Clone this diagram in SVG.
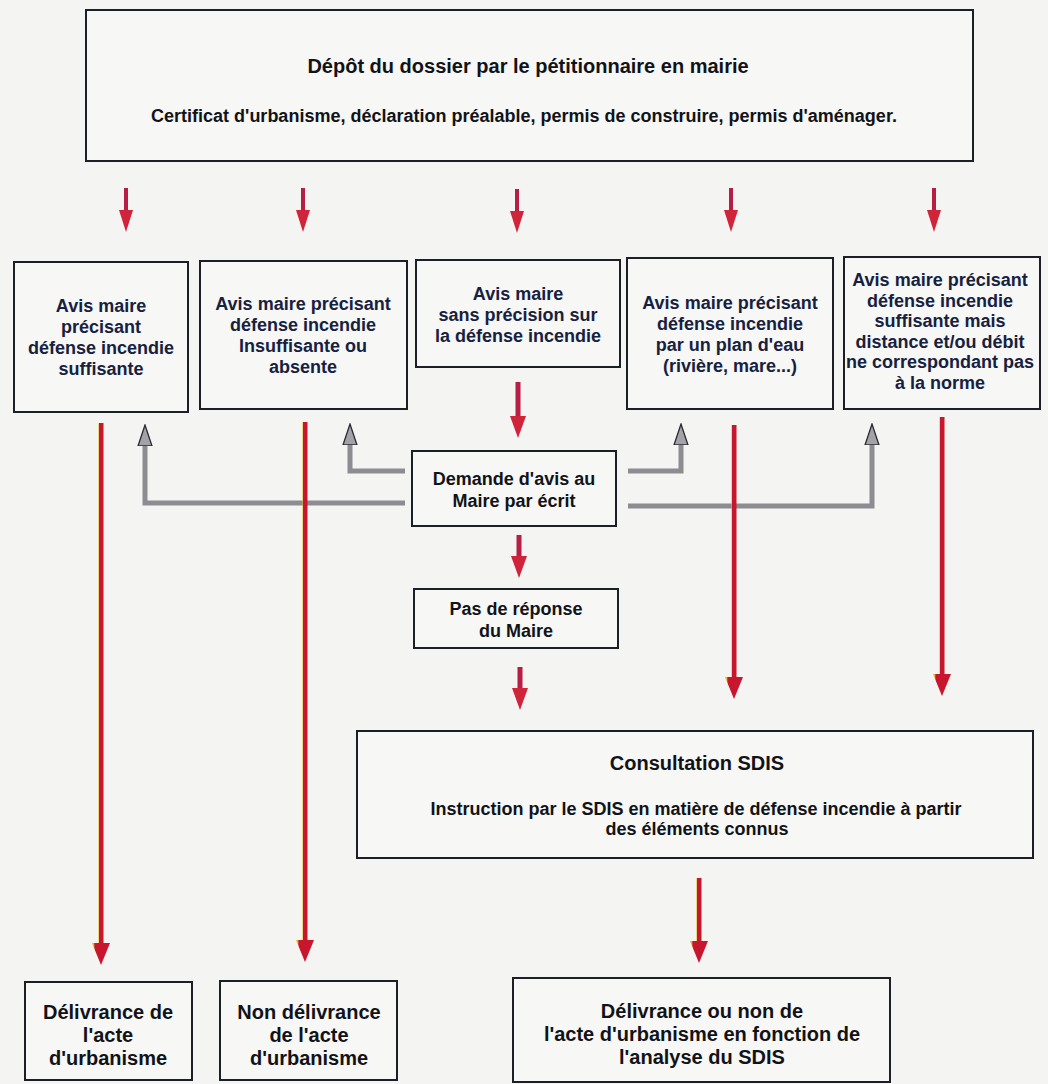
<svg xmlns="http://www.w3.org/2000/svg" width="1048" height="1084" viewBox="0 0 1048 1084">
<style>
.box{fill:#f7f7f5;stroke:#1c1e28;stroke-width:2}
.t{font-family:"Liberation Sans",Arial,Helvetica,sans-serif;font-weight:bold;text-anchor:middle;fill:#111318}
.nv{fill:#16213f}
.f18{font-size:18px}
.f20{font-size:20px}
.g{fill:none;stroke:#8c8c91;stroke-width:5;marker-end:url(#gh)}
.ra rect,.ra path{fill:url(#rg)}
.rs rect{fill:#b81d45}
.rs path{fill:#d0243a}
</style>
<defs>
<linearGradient id="rg" x1="0" y1="0" x2="1" y2="0">
<stop offset="0" stop-color="#e2b81c"/>
<stop offset="0.1" stop-color="#e2b81c"/>
<stop offset="0.16" stop-color="#c8162e"/>
<stop offset="1" stop-color="#c8162e"/>
</linearGradient>
<marker id="gh" viewBox="0 0 22 16" refX="0" refY="8" markerWidth="22" markerHeight="16" markerUnits="userSpaceOnUse" orient="auto">
<path d="M0,1 L21,8 L0,15 Z" fill="#a2a2a8" stroke="#2a2a30" stroke-width="1.3"/>
</marker>
</defs>
<rect x="0" y="0" width="1048" height="1084" fill="#f4f4f2"/>

<g id="connectors">
<polyline class="g" points="405,503 145,503 145,446"/>
<polyline class="g" points="405,471 350,471 350,445"/>
<polyline class="g" points="628,471 681,471 681,445"/>
<polyline class="g" points="628,506 872,506 872,445"/>

<g class="rs"><rect x="124" y="188" width="4" height="22"/><path d="M119,210 H133 L126,232 Z"/></g>
<g class="rs"><rect x="301" y="188" width="4" height="22"/><path d="M296,210 H310 L303,232 Z"/></g>
<g class="rs"><rect x="515" y="189" width="4" height="22"/><path d="M510,211 H524 L517,233 Z"/></g>
<g class="rs"><rect x="729" y="188" width="4" height="22"/><path d="M724,210 H738 L731,232 Z"/></g>
<g class="rs"><rect x="932" y="188" width="4" height="22"/><path d="M927,210 H941 L934,232 Z"/></g>

<g class="rs"><rect x="515.5" y="382" width="5" height="34"/><path d="M510,416 H526 L518,438 Z"/></g>
<g class="rs"><rect x="516.5" y="535" width="5" height="21"/><path d="M511,556 H527 L519,578 Z"/></g>
<g class="rs"><rect x="517.5" y="667" width="5" height="21"/><path d="M512,688 H528 L520,710 Z"/></g>

<g class="ra"><rect x="98.5" y="423" width="5" height="520"/><path d="M92,943 H110 L101,965 Z"/></g>
<g class="ra"><rect x="302.5" y="422" width="5" height="518"/><path d="M296,940 H314 L305,962 Z"/></g>
<g class="ra"><rect x="731.5" y="425" width="5" height="252"/><path d="M725,677 H743 L734,699 Z"/></g>
<g class="ra"><rect x="939.5" y="417" width="5" height="257"/><path d="M933,674 H951 L942,696 Z"/></g>
<g class="ra"><rect x="696.5" y="878" width="5" height="63"/><path d="M690,941 H708 L699,963 Z"/></g>
</g>

<g id="depot">
<rect class="box" x="86" y="10" width="887" height="151"/>
<text class="t f20" x="528" y="73">Dépôt du dossier par le pétitionnaire en mairie</text>
<text class="t f18" x="524" y="122">Certificat d'urbanisme, déclaration préalable, permis de construire, permis d'aménager.</text>
</g>

<g id="avis-suffisante">
<rect class="box" x="14" y="262" width="174" height="150"/>
<text class="t nv f18" x="101"><tspan x="101" y="312">Avis maire</tspan><tspan x="101" y="333">précisant</tspan><tspan x="101" y="354">défense incendie</tspan><tspan x="101" y="375">suffisante</tspan></text>
</g>

<g id="avis-insuffisante">
<rect class="box" x="200" y="261" width="207" height="148"/>
<text class="t nv f18" x="303"><tspan x="303" y="310">Avis maire précisant</tspan><tspan x="303" y="331">défense incendie</tspan><tspan x="303" y="352">Insuffisante ou</tspan><tspan x="303" y="373">absente</tspan></text>
</g>

<g id="avis-sans-precision">
<rect class="box" x="416" y="260" width="204" height="107"/>
<text class="t nv f18" x="518"><tspan x="518" y="300">Avis maire</tspan><tspan x="518" y="321">sans précision sur</tspan><tspan x="518" y="342">la défense incendie</tspan></text>
</g>

<g id="avis-plan-eau">
<rect class="box" x="627" y="258" width="206" height="151"/>
<text class="t nv f18" x="730"><tspan x="730" y="309">Avis maire précisant</tspan><tspan x="730" y="330">défense incendie</tspan><tspan x="730" y="351">par un plan d'eau</tspan><tspan x="730" y="372">(rivière, mare...)</tspan></text>
</g>

<g id="avis-norme">
<rect class="box" x="844" y="257" width="196" height="152"/>
<text class="t nv f18" x="940"><tspan x="940" y="286">Avis maire précisant</tspan><tspan x="940" y="307">défense incendie</tspan><tspan x="940" y="327">suffisante mais</tspan><tspan x="940" y="348">distance et/ou débit</tspan><tspan x="940" y="368">ne correspondant pas</tspan><tspan x="940" y="389">à la norme</tspan></text>
</g>

<g id="demande">
<rect class="box" x="412" y="451" width="204" height="75"/>
<text class="t f18" x="514"><tspan x="514" y="485">Demande d'avis au</tspan><tspan x="514" y="507">Maire par écrit</tspan></text>
</g>

<g id="pas-reponse">
<rect class="box" x="414" y="589" width="204" height="59"/>
<text class="t f18" x="516"><tspan x="516" y="615">Pas de réponse</tspan><tspan x="516" y="637">du Maire</tspan></text>
</g>

<g id="sdis">
<rect class="box" x="357" y="731" width="676" height="127"/>
<text class="t f20" x="697" y="770">Consultation SDIS</text>
<text class="t f18" x="696"><tspan x="696" y="815">Instruction par le SDIS en matière de défense incendie à partir</tspan><tspan x="697" y="835">des éléments connus</tspan></text>
</g>

<g id="delivrance">
<rect class="box" x="25" y="982" width="167" height="98"/>
<text class="t f20" x="108"><tspan x="108" y="1019">Délivrance de</tspan><tspan x="108" y="1042">l'acte</tspan><tspan x="108" y="1065">d'urbanisme</tspan></text>
</g>

<g id="non-delivrance">
<rect class="box" x="220" y="981" width="177" height="99"/>
<text class="t f20" x="309"><tspan x="309" y="1019">Non délivrance</tspan><tspan x="309" y="1042">de l'acte</tspan><tspan x="309" y="1065">d'urbanisme</tspan></text>
</g>

<g id="delivrance-ou-non">
<rect class="box" x="513" y="978" width="377" height="104"/>
<text class="t f20" x="702"><tspan x="702" y="1018">Délivrance ou non de</tspan><tspan x="702" y="1041">l'acte d'urbanisme en fonction de</tspan><tspan x="702" y="1064">l'analyse du SDIS</tspan></text>
</g>
</svg>
